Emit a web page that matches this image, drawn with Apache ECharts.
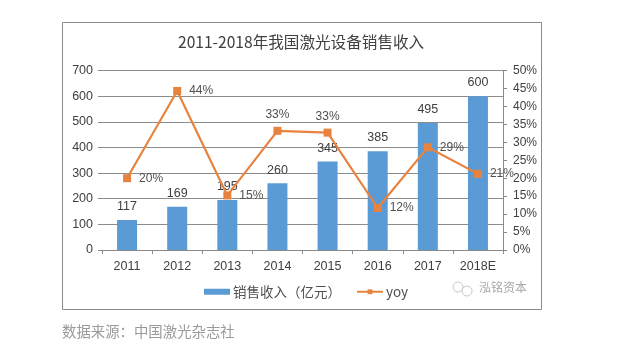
<!DOCTYPE html>
<html><head><meta charset="utf-8">
<style>html,body{margin:0;padding:0;background:#fff}#c{width:637px;height:361px}</style>
<script src="https://cdn.jsdelivr.net/npm/echarts@6/dist/echarts.min.js"></script>
</head><body><div id="c"></div>
<script>
const categories = ['2011','2012','2013','2014','2015','2016','2017','2018E'];
const revenue = [117,169,195,260,345,385,495,600];
const yoy = [20,44.3,15.2,33.2,32.7,11.7,28.6,21.2];
const yoyLabels = ['20%','44%','15%','33%','33%','12%','29%','21%'];
const yoyLabelsAbove = [3,4];
const titleText = '2011-2018年我国激光设备销售收入';
const sourceText = '数据来源：中国激光杂志社';
const watermarkText = '泓铭资本';
const sans = '"Liberation Sans","Noto Sans CJK SC",sans-serif';
const cjk = '"Noto Sans CJK SC",sans-serif';
const chart = echarts.init(document.getElementById('c'), null, {renderer:'canvas'});
chart.setOption({
  animation:false,
  backgroundColor:'#fff',
  title:{text:titleText,left:173,top:29,textStyle:{fontFamily:cjk,fontSize:15.6,fontWeight:'normal',color:'#404040'}},
  grid:{left:102,right:134,top:70.5,bottom:111},
  legend:{left:199,top:280,itemGap:15,itemWidth:26,itemHeight:6,
    textStyle:{fontFamily:cjk,fontSize:13.5,color:'#505050',padding:[0,0,0,-2]},
    data:[{name:'销售收入（亿元）',icon:'rect'},{name:'yoy'}]},
  xAxis:{type:'category',data:categories,
    axisLine:{lineStyle:{color:'#8a8a8a',width:1}},
    axisTick:{show:true,alignWithLabel:false,length:4,lineStyle:{color:'#8a8a8a'}},
    axisLabel:{fontFamily:sans,fontSize:12.5,color:'#404040',margin:10}},
  yAxis:[
    {type:'value',min:0,max:700,interval:100,
      axisLine:{show:false},
      axisTick:{show:true,length:4,lineStyle:{color:'#8a8a8a'}},
      splitLine:{lineStyle:{color:'#8c8c8c',width:1}},
      axisLabel:{fontFamily:sans,fontSize:12.5,color:'#404040',margin:9}},
    {type:'value',min:0,max:50,interval:5,position:'right',
      axisLine:{show:true,lineStyle:{color:'#8a8a8a'}},
      axisTick:{show:true,length:4,lineStyle:{color:'#8a8a8a'}},
      splitLine:{show:false},
      axisLabel:{fontFamily:sans,fontSize:12,color:'#404040',margin:10,formatter:'{value}%'}}
  ],
  series:[
    {name:'销售收入（亿元）',type:'bar',data:revenue,barWidth:20,
      itemStyle:{color:'#5b9bd5'},
      label:{show:true,position:'top',distance:7,fontFamily:sans,fontSize:12.5,color:'#404040'}},
    {name:'yoy',type:'line',yAxisIndex:1,z:5,
      data:yoy.map((v,i)=>({value:v,label:{position:yoyLabelsAbove.includes(i)?'top':'right',
        distance:yoyLabelsAbove.includes(i)?6:8,formatter:yoyLabels[i]}})),
      symbol:'rect',symbolSize:8,
      lineStyle:{color:'#e8833f',width:2.2},
      itemStyle:{color:'#e8833f'},
      label:{show:true,fontFamily:sans,fontSize:12,color:'#505050'}}
  ],
  graphic:[
    {type:'rect',z:-1,silent:true,shape:{x:62.5,y:22.5,width:479,height:287},
      style:{fill:'none',stroke:'#8a8a8a',lineWidth:1}},
    {type:'text',left:62,top:324,style:{text:sourceText,fontFamily:cjk,fontSize:14.4,fill:'#9a9a9a'}},
    {type:'text',left:479,top:281,style:{text:watermarkText,fontFamily:cjk,fontSize:12,fill:'#a8a8a8'}},
    {type:'circle',shape:{cx:458,cy:287,r:5},style:{fill:'#fff',stroke:'#c8c8c8',lineWidth:1}},
    {type:'circle',shape:{cx:467,cy:291,r:5},style:{fill:'#fff',stroke:'#c8c8c8',lineWidth:1}}
  ]
});
</script></body></html>
